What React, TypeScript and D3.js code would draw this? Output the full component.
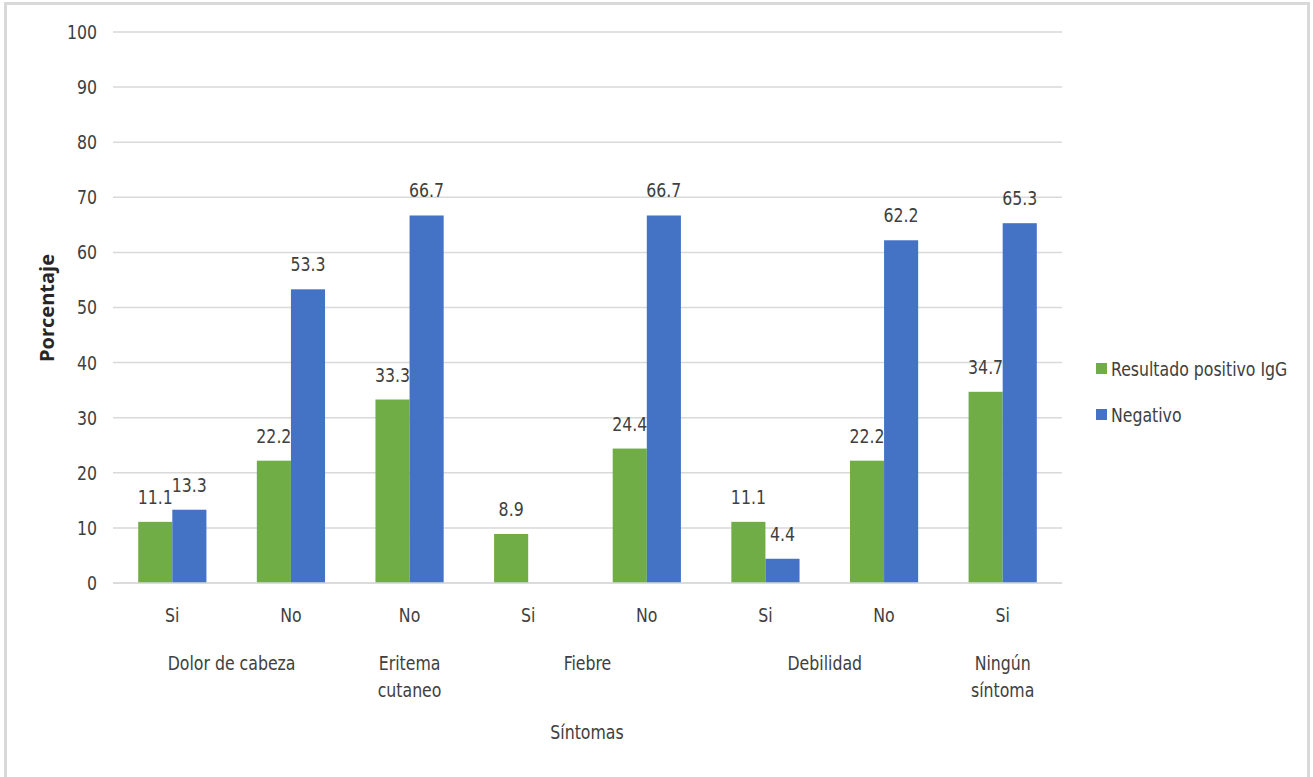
import React from "react";
import * as d3 from "d3";

const categories = ["Si", "No", "No", "Si", "No", "Si", "No", "Si"];
const positivo = [11.1, 22.2, 33.3, 8.9, 24.4, 11.1, 22.2, 34.7];
const negativo = [13.3, 53.3, 66.7, 0, 66.7, 4.4, 62.2, 65.3];
const groups: { label: string[]; from: number; to: number }[] = [
  { label: ["Dolor de cabeza"], from: 0, to: 1 },
  { label: ["Eritema", "cutaneo"], from: 2, to: 2 },
  { label: ["Fiebre"], from: 3, to: 4 },
  { label: ["Debilidad"], from: 5, to: 6 },
  { label: ["Ningún", "síntoma"], from: 7, to: 7 },
];
const yTicks = [0, 10, 20, 30, 40, 50, 60, 70, 80, 90, 100];
const seriesNames = ["Resultado positivo IgG", "Negativo"];
const colors = ["#70AD47", "#4472C4"];

const FONT = "'DejaVu Sans Condensed', 'DejaVu Sans', sans-serif";
const TXT = "#404040";
const SX = 0.875;

function T({ x, y, anchor = "start", children, dy }: { x: number; y: number; anchor?: string; children: React.ReactNode; dy?: string }) {
  return (
    <text transform={`scale(${SX},1)`} x={x / SX} y={y} dy={dy} textAnchor={anchor} fontFamily={FONT} fontSize={20} fill={TXT}>
      {children}
    </text>
  );
}

export default function App() {
  const W = 1313, H = 777;
  const left = 113, right = 1062, top = 32, bottom = 583;
  const x = d3.scaleBand<number>().domain(d3.range(categories.length)).range([left, right]).paddingInner(0.425).paddingOuter(0.2125);
  const y = d3.scaleLinear().domain([0, 100]).range([bottom, top]);
  const bw = x.bandwidth() / 2;
  const series = [positivo, negativo];
  const center = (i: number) => (x(i) as number) + x.bandwidth() / 2;

  return (
    <svg width={W} height={H} style={{ position: "absolute", left: 0, top: 0 }}>
      <rect x={0} y={0} width={W} height={H} fill="#fff" />
      <rect x={5.5} y={3.5} width={1303} height={H + 10} fill="none" stroke="#d9d9d9" strokeWidth={3} />
      {yTicks.map((t) => (
        <g key={t}>
          <line x1={left} x2={right} y1={y(t)} y2={y(t)} stroke="#d9d9d9" strokeWidth={1.5} />
          <T x={97} y={y(t)} dy="0.35em" anchor="end">{t}</T>
        </g>
      ))}
      {series.map((vals, s) =>
        vals.map((v, i) => (
          <rect key={`${s}-${i}`} x={(x(i) as number) + s * bw} y={y(v)} width={bw} height={y(0) - y(v)} fill={colors[s]} />
        ))
      )}
      <line x1={left} x2={right} y1={y(0)} y2={y(0)} stroke="#d9d9d9" strokeWidth={1.5} />
      {series.map((vals, s) =>
        vals.map((v, i) =>
          v > 0 ? (
            <T key={`l${s}-${i}`} x={(x(i) as number) + s * bw + bw / 2} y={y(v) - 18} anchor="middle">
              {v.toFixed(1)}
            </T>
          ) : null
        )
      )}
      {categories.map((c, i) => (
        <T key={`c${i}`} x={center(i)} y={622} anchor="middle">{c}</T>
      ))}
      {groups.map((g, gi) =>
        g.label.map((l, li) => (
          <T key={`g${gi}-${li}`} x={(center(g.from) + center(g.to)) / 2} y={670 + li * 27} anchor="middle">{l}</T>
        ))
      )}
      <T x={587} y={739} anchor="middle">Síntomas</T>
      <text transform={`translate(54,308) rotate(-90)`} textAnchor="middle" fontFamily="'Open Sans', 'DejaVu Sans', sans-serif" fontWeight="bold" fontSize={20} fill="#262626">Porcentaje</text>
      {seriesNames.map((n, s) => (
        <g key={n}>
          <rect x={1096} y={363 + s * 46} width={11} height={11} fill={colors[s]} />
          <T x={1111} y={369 + s * 46} dy="0.35em">{n}</T>
        </g>
      ))}
    </svg>
  );
}
